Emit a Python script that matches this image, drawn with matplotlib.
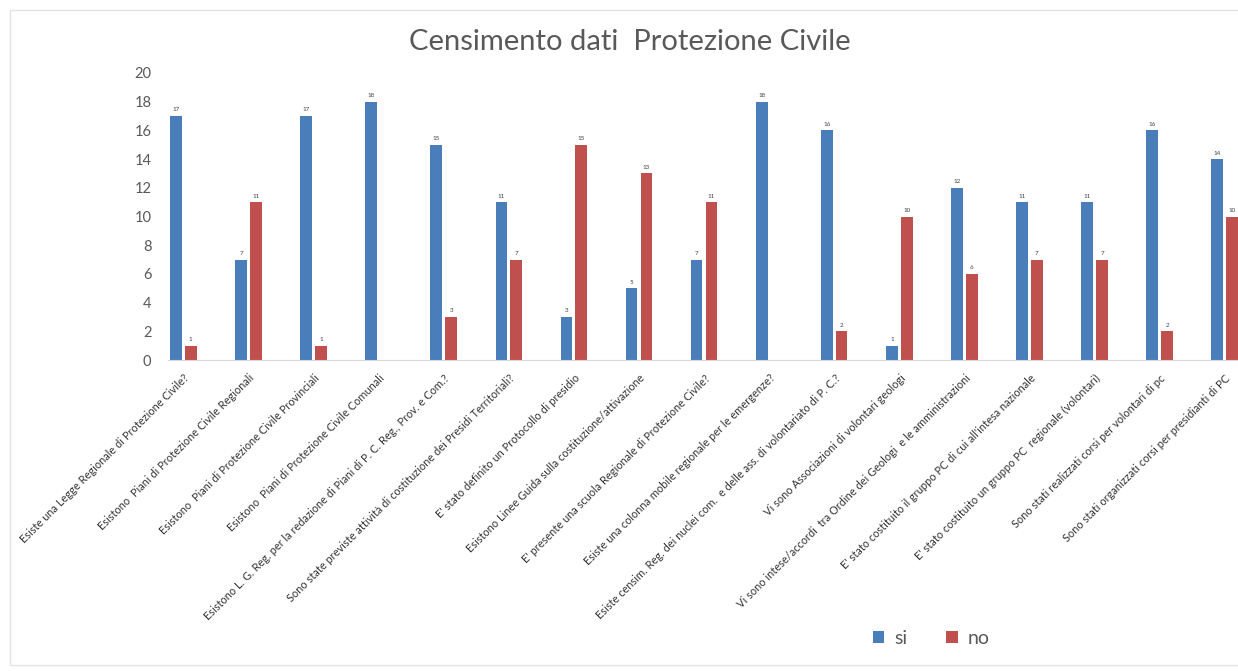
import matplotlib
matplotlib.use("Agg")
import matplotlib.pyplot as plt
from matplotlib.patches import Rectangle
import numpy as np

plt.rcParams['font.family'] = ['Lato', 'DejaVu Sans']

domande = [
    "Esiste una Legge Regionale di Protezione Civile?",
    "Esistono  Piani di Protezione Civile Regionali",
    "Esistono  Piani di Protezione Civile Provinciali",
    "Esistono  Piani di Protezione Civile Comunali",
    "Esistono L. G. Reg. per la redazione di Piani di P. C. Reg., Prov. e Com.?",
    "Sono state previste attività di costituzione dei Presidi Territoriali?",
    "E' stato definito un Protocollo di presidio",
    "Esistono Linee Guida sulla costituzione/attivazione",
    "E' presente una scuola Regionale di Protezione Civile?",
    "Esiste una colonna mobile regionale per le emergenze?",
    "Esiste censim. Reg. dei nuclei com.  e delle ass. di volontariato di P. C.?",
    "Vi sono Associazioni di volontari geologi",
    "Vi sono intese/accordi  tra Ordine dei Geologi  e le amministrazioni",
    "E' stato costituito il gruppo PC di cui all'intesa nazionale",
    "E' stato costituito un gruppo PC  regionale (volontari)",
    "Sono stati realizzati corsi per volontari di pc",
    "Sono stati organizzati corsi per presidianti di PC",
]
si = [17, 7, 17, 18, 15, 11, 3, 5, 7, 18, 16, 1, 12, 11, 11, 16, 14]
no = [1, 11, 1, 0, 3, 7, 15, 13, 11, 0, 2, 10, 6, 7, 7, 2, 10]

blu = "#4a7ebb"
rosso = "#c0504d"
grigio = "#595959"

fig = plt.figure(figsize=(12.38, 6.71), dpi=100)
ax = fig.add_axes([168 / 1238, 1 - 360 / 671, 1 - 168 / 1238, (360 - 73) / 671])

x = np.arange(len(domande))
w = 0.18
b1 = ax.bar(x - 0.118, si, w, color=blu, label="si")
b2 = ax.bar(x + 0.11, no, w, color=rosso, label="no")

# etichette con i valori sopra le barre (nessuna per gli zeri)
for bars, vals in ((b1, si), (b2, no)):
    for r, v in zip(bars, vals):
        if v:
            ax.text(r.get_x() + r.get_width() / 2, v + 0.25, str(v), ha="center",
                    va="bottom", fontsize=4.5, color="#404040")

ax.set_xlim(-0.24, 16.2)
ax.set_ylim(0, 20)
ax.set_yticks(range(0, 21, 2))
ax.tick_params(axis="y", length=0, labelsize=10.5, labelcolor=grigio, pad=12)
ax.set_xticks(x)
ax.set_xticklabels(domande, rotation=45, ha="right", rotation_mode="anchor",
                   fontsize=7.9, color="#333333")
ax.tick_params(axis="x", length=0, pad=9)
for s in ("top", "right", "left"):
    ax.spines[s].set_visible(False)
ax.spines["bottom"].set_color("#d9d9d9")

fig.text(0.509, 0.937, "Censimento dati  Protezione Civile", ha="center", va="center",
         fontsize=21, color=grigio)

fig.legend(handles=[b1, b2], loc="center", bbox_to_anchor=(0.752, 0.049), ncol=2,
           frameon=False, fontsize=14, handlelength=0.6, handleheight=0.6,
           columnspacing=2.0, handletextpad=0.5, labelcolor=grigio)

fig.patches.append(Rectangle((10 / 1238, 6 / 671), 1.0, 655 / 671,
                             transform=fig.transFigure, fill=False,
                             edgecolor="#e3e3e3", linewidth=1))

fig.savefig("out.png", dpi=100)
